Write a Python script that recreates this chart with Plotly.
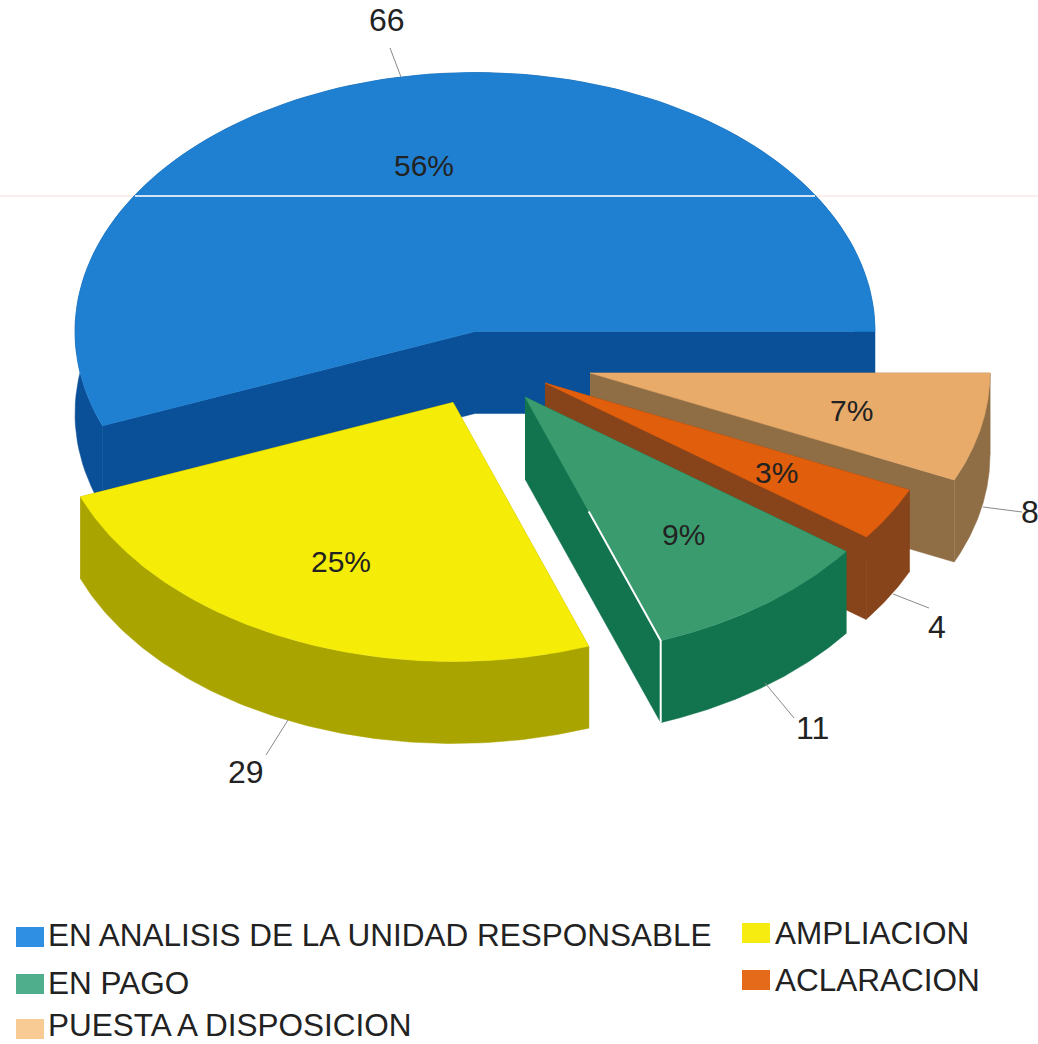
import numpy as np
import plotly.graph_objects as go

# ---- data ----
categories = ["EN ANALISIS DE LA UNIDAD RESPONSABLE", "AMPLIACION", "EN PAGO", "ACLARACION", "PUESTA A DISPOSICION"]
values = [66, 29, 11, 4, 8]
percent_labels = ["56%", "25%", "9%", "3%", "7%"]

# ---- styling / projection ----
top_colors = ["#1f80d2", "#f5ec07", "#3a9c6e", "#e05e0c", "#e8ab6a"]
side_colors = ["#0a5098", "#aaa400", "#12734f", "#87441a", "#8f6d45"]
swatch_colors = ["#2f8fe2", "#f7ec10", "#4fae8c", "#e56a1a", "#f8cb94"]
centers = [(475, 331.5), (453, 402.5), (525, 397), (545, 383), (590, 373)]
pct_pos = [(424, 165), (341, 561), (683, 534), (776, 472), (851, 410)]
val_pos = [(387, 20), (246, 772), (812, 728), (937, 627), (1030, 512)]
leaders = [((401, 77), (390, 48)), ((288, 720), (266, 755)), ((765, 683), (794, 718)),
           ((893, 594), (929, 608)), ((983, 507), (1022, 512))]
legend_pos = [(46, 935), (773, 933), (46, 983), (773, 980), (46, 1025)]
swatch_pos = [(16, 927), (742, 923), (16, 974), (742, 970), (16, 1019)]
RX, RY, DEPTH = 400, 259, 82
FONT = "Liberation Sans, Arial, sans-serif"
draw_order = [0, 4, 3, 2, 1]

total = sum(values)
edges = np.concatenate([[0], np.cumsum(values)]) / total * 2 * np.pi

fig = go.Figure()


def poly(xs, ys, color):
    fig.add_trace(go.Scatter(x=list(xs), y=list(ys), mode="lines", fill="toself", fillcolor=color,
                             line=dict(color=color, width=0.5), hoverinfo="skip", showlegend=False))


for i in draw_order:
    cx, cy = centers[i]
    t = np.linspace(edges[i], edges[i + 1], 120)
    ax = cx + RX * np.cos(t)
    ay = cy - RY * np.sin(t)
    # cut faces
    for k in (0, -1):
        poly([cx, ax[k], ax[k], cx], [cy, ay[k], ay[k] + DEPTH, cy + DEPTH], side_colors[i])
    # outer wall
    poly(np.r_[ax, ax[::-1]], np.r_[ay, (ay + DEPTH)[::-1]], side_colors[i])
    # top face
    poly(np.r_[cx, ax, cx], np.r_[cy, ay, cy], top_colors[i])
    if i == 2:  # white edge of the green slice
        px, py = ax[0], ay[0]
        fig.add_trace(go.Scatter(x=[cx + 0.47 * (px - cx), px, px], y=[cy + 0.47 * (py - cy), py, py + DEPTH],
                                 mode="lines", line=dict(color="white", width=2), hoverinfo="skip", showlegend=False))

for (a, b) in leaders:
    fig.add_trace(go.Scatter(x=[a[0], b[0]], y=[a[1], b[1]], mode="lines",
                             line=dict(color="#8a8a8a", width=1), hoverinfo="skip", showlegend=False))

ann = []
for txt, p in zip(percent_labels, pct_pos):
    ann.append(dict(x=p[0], y=p[1], text=txt, showarrow=False, font=dict(size=30, color="#222222", family=FONT)))
for v, p in zip(values, val_pos):
    ann.append(dict(x=p[0], y=p[1], text=str(v), showarrow=False, font=dict(size=32, color="#222222", family=FONT)))
for c, p in zip(categories, legend_pos):
    ann.append(dict(x=p[0], y=p[1], text=c, showarrow=False, xanchor="left", font=dict(size=31.5, color="#222222", family=FONT)))

shapes = []
for col, p in zip(swatch_colors, swatch_pos):
    shapes.append(dict(type="rect", x0=p[0], x1=p[0] + 28, y0=p[1], y1=p[1] + 20, fillcolor=col, line=dict(width=0), layer="above"))
# faint horizontal scan line across the page
shapes.append(dict(type="line", x0=0, x1=1038, y0=196, y1=196, line=dict(color="#f6dede", width=1), layer="below"))
shapes.append(dict(type="line", x0=135, x1=815, y0=196, y1=196, line=dict(color="#cfe2f6", width=2), layer="above"))

fig.update_layout(
    width=1038, height=1044, margin=dict(l=0, r=0, t=0, b=0), showlegend=False,
    paper_bgcolor="white", plot_bgcolor="white", annotations=ann, shapes=shapes,
    xaxis=dict(range=[0, 1038], visible=False, fixedrange=True),
    yaxis=dict(range=[1044, 0], visible=False, fixedrange=True),
)
fig.write_html("out.html", post_script="document.body.style.margin='0';", config={"displayModeBar": False})
